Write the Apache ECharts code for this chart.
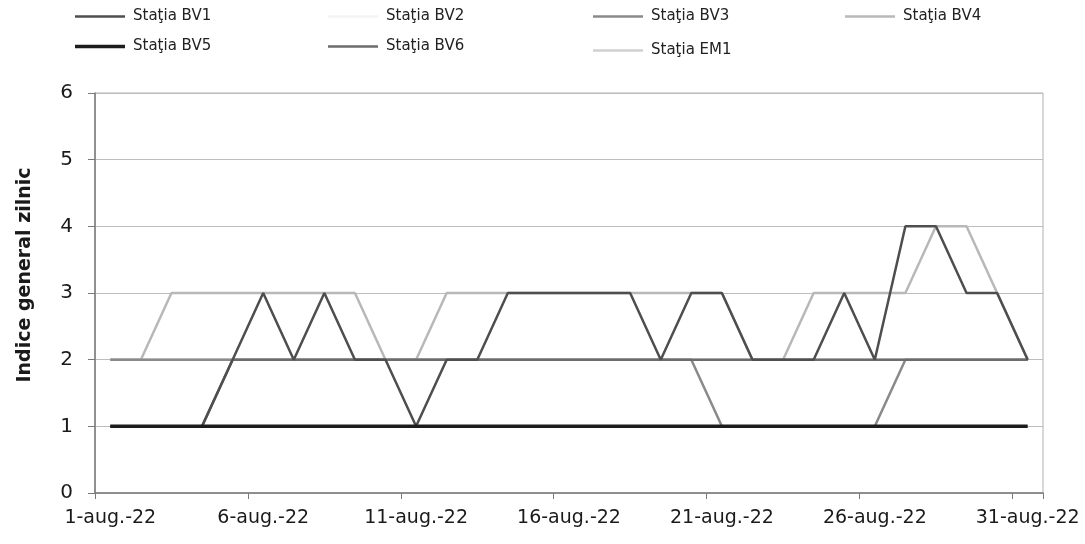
<!DOCTYPE html>
<html>
<head>
<meta charset="utf-8">
<script src="https://cdn.jsdelivr.net/npm/echarts@6/dist/echarts.min.js"></script>
<style>
html,body{margin:0;padding:0;background:#fff;}
#chart{width:1085px;height:544px;}
</style>
</head>
<body>
<div id="chart"></div>
<script>
const categories = ['1-aug.-22','2-aug.-22','3-aug.-22','4-aug.-22','5-aug.-22','6-aug.-22','7-aug.-22','8-aug.-22','9-aug.-22','10-aug.-22',
  '11-aug.-22','12-aug.-22','13-aug.-22','14-aug.-22','15-aug.-22','16-aug.-22','17-aug.-22','18-aug.-22','19-aug.-22','20-aug.-22',
  '21-aug.-22','22-aug.-22','23-aug.-22','24-aug.-22','25-aug.-22','26-aug.-22','27-aug.-22','28-aug.-22','29-aug.-22','30-aug.-22','31-aug.-22'];
const bv1 = [1,1,1,1,2,3,2,3,2,2,1,2,2,3,3,3,3,3,2,3,3,2,2,2,3,2,4,4,3,3,2];
const bv2 = [2,2,2,2,2,2,2,2,2,2,2,2,2,2,2,2,2,2,2,2,2,2,2,2,2,2,2,2,2,2,2];
const bv3 = [2,2,2,2,2,2,2,2,2,2,2,2,2,2,2,2,2,2,2,2,1,1,1,1,1,1,2,2,2,2,2];
const bv4 = [2,2,3,3,3,3,3,3,3,2,2,3,3,3,3,3,3,3,3,3,3,2,2,3,3,3,3,4,4,3,2];
const bv5 = [1,1,1,1,1,1,1,1,1,1,1,1,1,1,1,1,1,1,1,1,1,1,1,1,1,1,1,1,1,1,1];
const bv6 = [1,1,1,1,2,2,2,2,2,2,2,2,2,2,2,2,2,2,2,2,2,2,2,2,2,2,2,2,2,2,2];
const em1 = [2,2,2,2,2,2,2,2,2,2,2,2,2,2,2,2,2,2,2,2,2,2,2,2,2,2,2,2,2,2,2];
const yTicks = [0,1,2,3,4,5,6];

const FONT = 'DejaVu Sans';
const chart = echarts.init(document.getElementById('chart'), null, {renderer:'canvas'});

const colors = {
  'Staţia BV1':'#4e4e4e', 'Staţia BV2':'#f4f4f4', 'Staţia BV3':'#8a8a8a', 'Staţia BV4':'#b8b8b8',
  'Staţia BV5':'#1c1c1c', 'Staţia BV6':'#6c6c6c', 'Staţia EM1':'#d0d0d0'
};
const widths = {
  'Staţia BV1':2.5, 'Staţia BV2':2.5, 'Staţia BV3':2.5, 'Staţia BV4':2.5,
  'Staţia BV5':3.5, 'Staţia BV6':2.5, 'Staţia EM1':2.5
};

function ser(name, data, z){
  return {name:name, type:'line', data:data, symbol:'none', z:z,
    lineStyle:{color:colors[name], width:widths[name]}, itemStyle:{color:colors[name]}};
}
function leg(name, left, top){
  return {data:[{name:name, icon:'rect', itemStyle:{color:colors[name]}}], left:left, top:top, padding:0,
    itemWidth:50, itemHeight:widths[name], itemGap:0,
    textStyle:{fontFamily:FONT, fontSize:15, color:'#222', padding:[0,0,0,3]}, selectedMode:false};
}

chart.setOption({
  animation:false,
  backgroundColor:'#fff',
  grid:{left:95, right:42, top:93, bottom:51, show:true, borderColor:'#b0b0b0', borderWidth:1},
  legend:[
    leg('Staţia BV1', 75, 9),
    leg('Staţia BV2', 328, 9),
    leg('Staţia BV3', 593, 9),
    leg('Staţia BV4', 845, 9),
    leg('Staţia BV5', 75, 39),
    leg('Staţia BV6', 328, 39),
    leg('Staţia EM1', 593, 43)
  ],
  xAxis:{type:'category', data:categories, boundaryGap:true,
    axisLine:{lineStyle:{color:'#7a7a7a', width:1.5}},
    axisTick:{show:true, interval:4, length:6, lineStyle:{color:'#7a7a7a'}},
    axisLabel:{interval:4, margin:16, fontFamily:FONT, fontSize:19, color:'#1a1a1a'},
    splitLine:{show:false}},
  yAxis:{type:'value', min:0, max:6, interval:1,
    axisLine:{show:true, lineStyle:{color:'#7a7a7a', width:1.5}},
    axisTick:{show:true, length:7, lineStyle:{color:'#7a7a7a'}},
    axisLabel:{margin:22, fontFamily:FONT, fontSize:20, color:'#1a1a1a',
      formatter:function(v){return yTicks.indexOf(v)>=0 ? String(v) : '';}},
    splitLine:{show:true, lineStyle:{color:'#bdbdbd', width:1}}},
  graphic:[{type:'text', x:25, y:275, rotation:Math.PI/2,
    style:{text:'Indice general zilnic', fontFamily:FONT, fontWeight:'bold', fontSize:19,
      fill:'#1a1a1a', textAlign:'center', textVerticalAlign:'middle'}}],
  series:[
    ser('Staţia BV1', bv1, 8),
    ser('Staţia BV2', bv2, 2),
    ser('Staţia BV3', bv3, 5),
    ser('Staţia BV4', bv4, 4),
    ser('Staţia BV5', bv5, 9),
    ser('Staţia BV6', bv6, 6),
    ser('Staţia EM1', em1, 3)
  ]
});
</script>
</body>
</html>
